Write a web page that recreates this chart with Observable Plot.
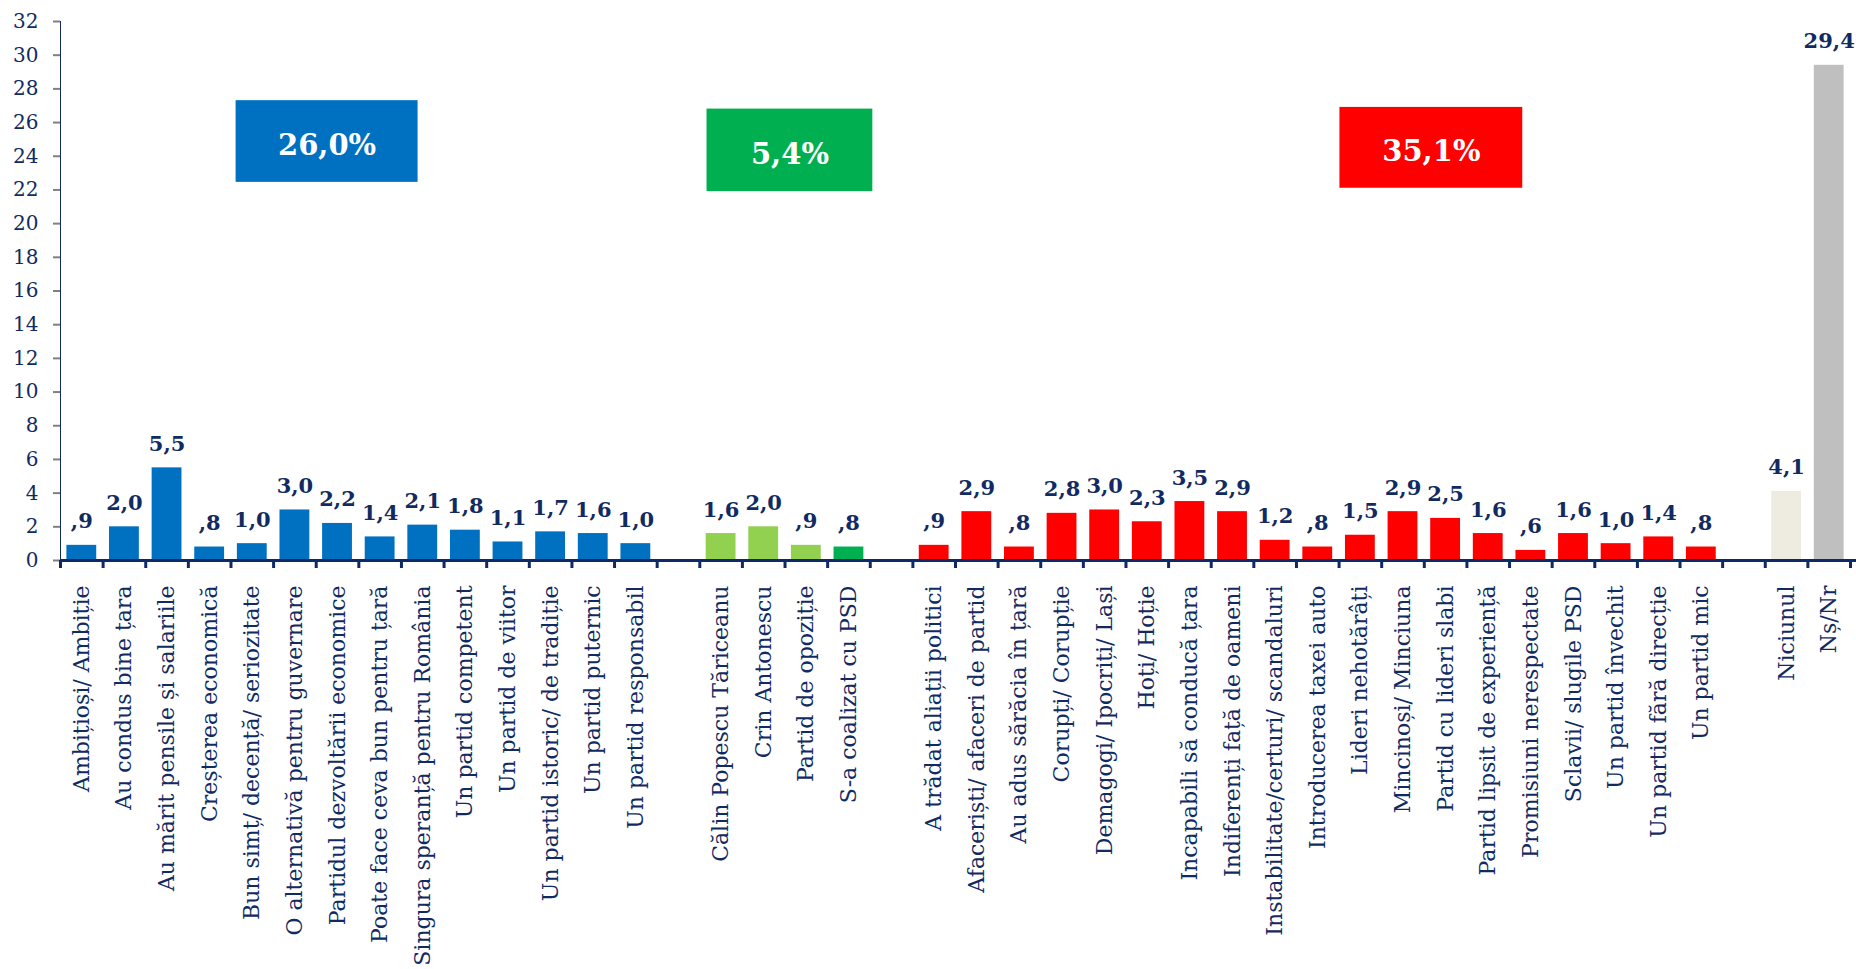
<!DOCTYPE html>
<html>
<head>
<meta charset="utf-8">
<script src="https://cdn.jsdelivr.net/npm/d3@7"></script>
<script src="https://cdn.jsdelivr.net/npm/@observablehq/plot@0.6"></script>
<style>
  body { margin: 0; background: #ffffff; }
  #chart svg { display: block; }
  #chart [aria-label^="y-axis"] line, #chart [aria-label^="y-axis"] path { stroke: #808080; stroke-width: 2px; }
  #chart [aria-label^="y-axis"] text { font-size: 20px; fill: #112B62; }
  #chart [aria-label^="x-axis"] line, #chart [aria-label^="x-axis"] path { stroke: #0E2A66; stroke-width: 3px; }
</style>
</head>
<body>
<div id="chart"></div>
<script>
// ---- data ----
const blueLabels = [
  "Ambițioși/ Ambiție", "Au condus bine țara", "Au mărit pensile și salariile", "Creșterea economică",
  "Bun simț/ decență/ seriozitate", "O alternativă pentru guvernare", "Partidul dezvoltării economice",
  "Poate face ceva bun pentru țară", "Singura speranță pentru România", "Un partid competent",
  "Un partid de viitor", "Un partid istoric/ de tradiție", "Un partid puternic", "Un partid responsabil"
];
const blueValues = [0.9, 2.0, 5.5, 0.8, 1.0, 3.0, 2.2, 1.4, 2.1, 1.8, 1.1, 1.7, 1.6, 1.0];

const greenLabels = ["Călin Popescu Tăriceanu", "Crin Antonescu", "Partid de opoziție", "S-a coalizat cu PSD"];
const greenValues = [1.6, 2.0, 0.9, 0.8];
const greenColors = ["#92D050", "#92D050", "#92D050", "#00B050"];

const redLabels = [
  "A trădat aliații politici", "Afaceriști/ afaceri de partid", "Au adus sărăcia în țară", "Corupți/ Corupție",
  "Demagogi/ Ipocriți/ Lași", "Hoți/ Hoție", "Incapabili să conducă țara", "Indiferenți față de oameni",
  "Instabilitate/certuri/ scandaluri", "Introducerea taxei auto", "Lideri nehotărâți", "Mincinoși/ Minciuna",
  "Partid cu lideri slabi", "Partid lipsit de experiență", "Promisiuni nerespectate", "Sclavii/ slugile PSD",
  "Un partid învechit", "Un partid fără direcție", "Un partid mic"
];
const redValues = [0.9, 2.9, 0.8, 2.8, 3.0, 2.3, 3.5, 2.9, 1.2, 0.8, 1.5, 2.9, 2.5, 1.6, 0.6, 1.6, 1.0, 1.4, 0.8];

const otherLabels = ["Niciunul", "Nș/Nr"];
const otherValues = [4.1, 29.4];
const otherColors = ["#EEECE1", "#BFBFBF"];

// group start slots (one empty slot between groups)
const groupStarts = {blue: 0, green: 15, red: 20, other: 40};

const yTicks = [0, 2, 4, 6, 8, 10, 12, 14, 16, 18, 20, 22, 24, 26, 28, 30, 32];

const boxLabels = ["26,0%", "5,4%", "35,1%"];
const boxColors = ["#0070C0", "#00B050", "#FF0000"];
const boxX1 = [3.62, 14.67, 29.52];
const boxX2 = [7.89, 18.56, 33.81];
const boxY1 = [22.45, 21.9, 22.1];
const boxY2 = [27.3, 26.8, 26.9];

// ---- build table ----
const rows = [];
blueLabels.forEach((c, i) => rows.push({slot: groupStarts.blue + i, cat: c, value: blueValues[i], color: "#0070C0"}));
greenLabels.forEach((c, i) => rows.push({slot: groupStarts.green + i, cat: c, value: greenValues[i], color: greenColors[i]}));
redLabels.forEach((c, i) => rows.push({slot: groupStarts.red + i, cat: c, value: redValues[i], color: "#FF0000"}));
otherLabels.forEach((c, i) => rows.push({slot: groupStarts.other + i, cat: c, value: otherValues[i], color: otherColors[i]}));

const boxes = boxLabels.map((l, i) => ({label: l, color: boxColors[i], x1: boxX1[i], x2: boxX2[i], y1: boxY1[i], y2: boxY2[i]}));

const nSlots = 42;
const boundaries = d3.range(-0.5, nSlots, 1);
const fmt = v => { const s = v.toFixed(1).replace(".", ","); return s.startsWith("0") ? s.slice(1) : s; };

const NAVY = "#112B62";

const chart = Plot.plot({
  width: 1856,
  height: 969,
  marginLeft: 60,
  marginRight: 6,
  marginTop: 21,
  marginBottom: 409,
  style: {fontFamily: "DejaVu Serif", fontSize: "20px", color: NAVY, background: "white", overflow: "visible"},
  color: {type: "identity"},
  x: {type: "linear", domain: [-0.5, nSlots - 0.5], ticks: boundaries, tickSize: 8, tickFormat: () => "", label: null},
  y: {domain: [0, 32], ticks: yTicks, tickSize: 7, tickPadding: 15, label: null, line: true},
  marks: [
    Plot.rectY(rows, {x1: d => d.slot - 0.35, x2: d => d.slot + 0.35, y1: 0, y2: "value", fill: "color"}),
    Plot.ruleY([0], {x1: -0.5, x2: nSlots - 0.35, stroke: "#0E2A66", strokeWidth: 3}),
    Plot.text(rows, {x: "slot", y: "value", text: d => fmt(d.value), dy: -17, lineAnchor: "bottom",
      fontWeight: "bold", fontSize: 21, fill: NAVY}),
    Plot.text(rows, {x: "slot", y: 0, text: "cat", rotate: -90, textAnchor: "end", lineAnchor: "middle",
      dy: 25, fontSize: 22, fill: NAVY}),
    Plot.rect(boxes, {x1: "x1", x2: "x2", y1: "y1", y2: "y2", fill: "color"}),
    Plot.text(boxes, {x: d => (d.x1 + d.x2) / 2, y: d => (d.y1 + d.y2) / 2, text: "label", fill: "white",
      fontWeight: "bold", fontSize: 29, dy: 4})
  ]
});
document.getElementById("chart").appendChild(chart);
</script>
</body>
</html>
